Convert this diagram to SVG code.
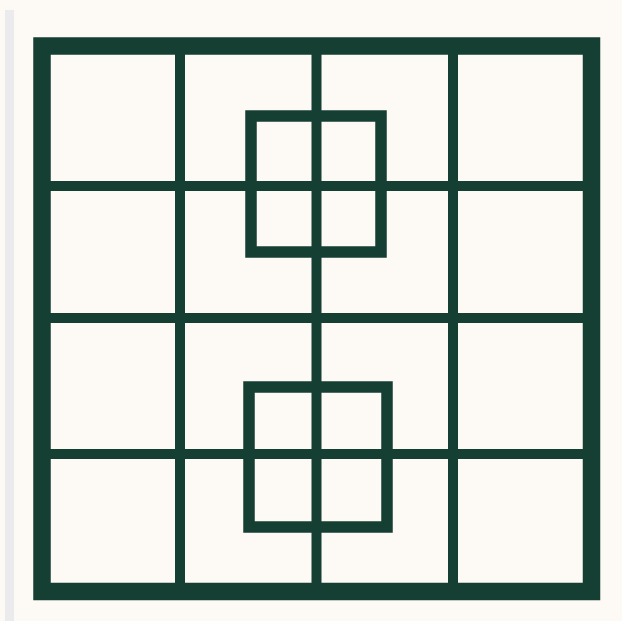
<svg xmlns="http://www.w3.org/2000/svg" width="622" height="621" viewBox="0 0 622 621">
<style>
.ln{stroke:#163f34;fill:none;stroke-linecap:butt}
.grid{stroke-width:10}
.sq{stroke-width:11.5}
</style>
<rect x="0" y="0" width="622" height="621" fill="#fdf9f4"/>
<rect x="5" y="10" width="9" height="611" fill="#ebebed"/>
<g id="grid">
<rect id="outer" class="ln" x="42" y="46" width="549.5" height="545.5" stroke-width="17.5"/>
<g id="lines">
<line class="ln grid" x1="180" y1="46" x2="180" y2="591.5"/>
<line class="ln grid" x1="316.5" y1="46" x2="316.5" y2="591.5"/>
<line class="ln grid" x1="453" y1="46" x2="453" y2="591.5"/>
<line class="ln grid" x1="42" y1="186" x2="591.5" y2="186"/>
<line class="ln grid" x1="42" y1="318" x2="591.5" y2="318"/>
<line class="ln grid" x1="42" y1="454" x2="591.5" y2="454"/>
</g>
<rect id="square-top" class="ln sq" x="251" y="116" width="130" height="136"/>
<rect id="square-bottom" class="ln sq" x="249" y="387" width="138" height="140"/>
</g>
</svg>
